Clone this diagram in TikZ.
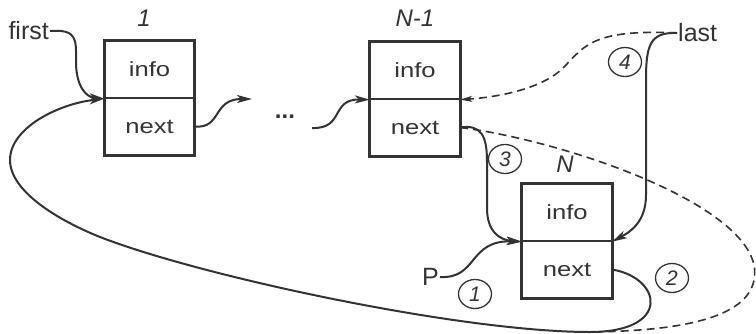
\documentclass[tikz,border=0pt]{standalone}
\usepackage{fontspec}
\setmainfont{Liberation Sans}
\newfontfamily\boxfont[FakeStretch=1.25]{Liberation Sans}
\usetikzlibrary{arrows.meta,shapes.geometric}
\definecolor{ink}{HTML}{333333}
\tikzset{
  half/.style={draw=ink, line width=1.3pt, minimum width=89pt, minimum height=57pt, inner sep=0pt, font=\boxfont\fontsize{20.5}{24}\selectfont, text=ink},
  frame/.style={draw=ink, line width=3pt},
  conn/.style={draw=ink, line width=2pt, -{Stealth[length=15pt,width=8pt,inset=4pt]}},
  dconn/.style={draw=ink, line width=1.6pt, dash pattern=on 8pt off 5pt},
  lbl/.style={font=\fontsize{25}{28}\selectfont, text=ink, inner sep=1pt},
  idx/.style={font=\itshape\fontsize{24}{26}\selectfont, text=ink, inner sep=0pt},
  num/.style={ellipse, draw=ink, line width=1.3pt, minimum width=33pt, minimum height=29pt, inner sep=0pt, font=\itshape\fontsize{21}{22}\selectfont, text=ink},
}
\begin{document}
\begin{tikzpicture}[x=1pt,y=-1pt]
\useasboundingbox (0,0) rectangle (756,333);
% boxes
\node[half] (i1) at (149.5,69.5) {info};
\node[half] (n1) at (149.5,126.5) {next};
\draw[frame] (i1.north west) rectangle (n1.south east);
\node[half] (i2) at (415,70.5) {info};
\node[half] (n2) at (415,127.5) {next};
\draw[frame] (i2.north west) rectangle (n2.south east);
\node[half] (i3) at (567,212.5) {info};
\node[half] (n3) at (567,269.5) {next};
\draw[frame] (i3.north west) rectangle (n3.south east);
% index labels
\node[idx] (l1) at (144,18) {1};
\node[idx] (l2) at (415,18.5) {N-1};
\node[idx] (l3) at (565,164) {N};
% names
\node[lbl, anchor=east] (first) at (50,31) {first};
\node[lbl, anchor=west] (last) at (677,33) {last};
\node[lbl, anchor=east] (P) at (440,277) {P};
\node[lbl, font=\bfseries\fontsize{24}{28}\selectfont] (dots) at (285,117) {...};
% circled numbers
\node[num] (c1) at (475,294) {1};
\node[num] (c2) at (672,278) {2};
\node[num] (c3) at (505,159) {3};
\node[num] (c4) at (625,62) {4};
% free ends
\coordinate (e1) at (252,99);
\coordinate (s2) at (312,128);
\coordinate (dend) at (588,332);
% connectors
\draw[conn] (first.east) .. controls (78,29) and (76,40) .. (76,62) .. controls (76,86) and (86,97) .. (i1.south west);
\draw[conn] (n1.east) .. controls (222,129) and (212,99) .. (e1);
\draw[conn] (s2) .. controls (345,129) and (330,99) .. (i2.south west);
\draw[dconn, -{Stealth[length=12pt,width=6pt,inset=3pt]}] (last.west) .. controls (595,29) and (585,45) .. (565,66) .. controls (545,88) and (500,97) .. (i2.south east);
\draw[conn] (last.west) .. controls (650,32) and (646,45) .. (646,80) -- (646,195) .. controls (646,222) and (630,232) .. (i3.south east);
\draw[conn] (n2.east) .. controls (482,124) and (487,137) .. (487,162) -- (487,208) .. controls (487,232) and (500,240) .. (i3.south west);
\draw[conn] (P.east) .. controls (478,279) and (468,240) .. (i3.south west);
\draw[dconn] (n2.east) .. controls (560,140) and (740,200) .. (754,265) .. controls (762,312) and (700,331) .. (dend);
\draw[conn] (n3.east) .. controls (662,278) and (672,332) .. (590,332) .. controls (460,332) and (200,276) .. (100,237) .. controls (60,221) and (10,192) .. (10,160) .. controls (10,128) and (58,104) .. (i1.south west);
\end{tikzpicture}
\end{document}
